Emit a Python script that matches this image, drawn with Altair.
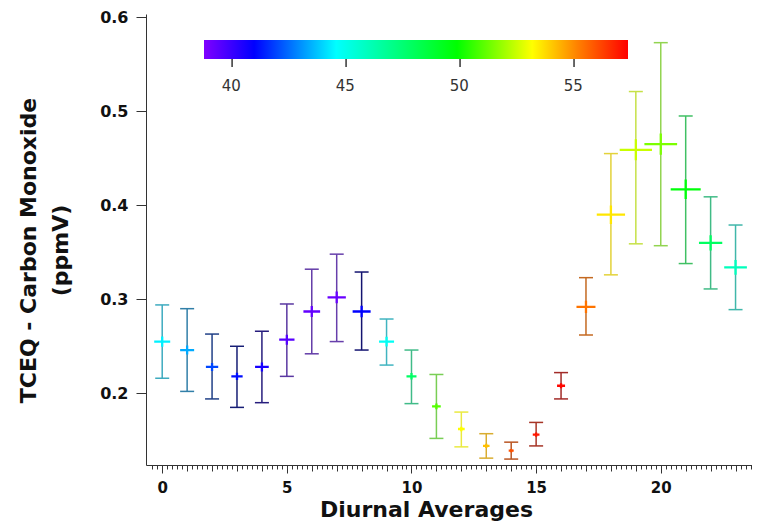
import altair as alt
import pandas as pd

# ---- data ----
hours = list(range(24))
co_mean = [0.255, 0.246, 0.228, 0.218, 0.228, 0.257, 0.287, 0.302, 0.287, 0.255,
           0.218, 0.186, 0.162, 0.144, 0.139, 0.156, 0.208, 0.292, 0.390, 0.459,
           0.465, 0.417, 0.360, 0.334]
co_low = [0.216, 0.202, 0.194, 0.185, 0.190, 0.218, 0.242, 0.255, 0.246, 0.230,
          0.189, 0.152, 0.143, 0.131, 0.130, 0.144, 0.194, 0.262, 0.326, 0.359,
          0.357, 0.338, 0.311, 0.289]
co_high = [0.294, 0.290, 0.263, 0.250, 0.266, 0.295, 0.332, 0.348, 0.329, 0.279,
           0.246, 0.220, 0.180, 0.157, 0.148, 0.169, 0.222, 0.323, 0.455, 0.521,
           0.573, 0.495, 0.409, 0.379]
temperature = [44.4, 43.4, 42.0, 41.2, 40.6, 39.5, 39.3, 39.2, 41.0, 44.8,
               47.8, 51.0, 53.2, 54.2, 56.0, 57.0, 57.3, 55.4, 53.6, 52.5,
               51.5, 49.7, 47.9, 46.0]
spread = [16, 14, 12.3, 11.3, 13.7, 15.3, 16.7, 18.3, 18, 15,
          10, 8.7, 6.7, 6.5, 5, 6.7, 8, 19, 28.3, 32.3,
          32.7, 30, 23.3, 22.7]

color_stops = [38.8, 41.0, 44.6, 49.9, 53.2, 55.2, 57.4]
color_range = ["#8000ff", "#0000ff", "#00ffff", "#00ff00", "#ffff00", "#ff8000", "#ff0000"]
bar_range = ["#7a48b8", "#141470", "#40b4c4", "#40c060", "#eaea40", "#c87020", "#a02828"]
colorbar_ticks = [40, 45, 50, 55]
y_tick_values = [0.2, 0.3, 0.4, 0.5, 0.6]
x_tick_values = [round(-0.4 + 0.2 * i, 1) for i in range(121)]

df = pd.DataFrame({
    "hour": hours, "mean": co_mean, "low": co_low, "high": co_high,
    "temp": temperature, "spread": spread,
})
t_min, t_max = color_stops[0], color_stops[-1]
cb_df = pd.DataFrame({"t0": [t_min], "t1": [t_max]})
cb_tick_df = pd.DataFrame({"t": colorbar_ticks})
cb_tickmark_df = pd.DataFrame({"tk": colorbar_ticks})

FONT = "DejaVu Sans"

x_scale = alt.Scale(domain=[-0.65, 23.66], nice=False, zero=False)
y_scale = alt.Scale(domain=[0.1237, 0.6035], nice=False, zero=False)
color_scale = alt.Scale(domain=color_stops, range=color_range, interpolate="rgb")
cb_x_scale = alt.Scale(domain=[t_min, t_max], range=[58, 482], nice=False, zero=False)

x_axis = alt.Axis(
    values=x_tick_values,
    title="Diurnal Averages",
    labelExpr="abs(datum.value/5 - round(datum.value/5)) < 0.001 ? format(datum.value, 'd') : ''",
    labelOverlap=False,
    labelFont=FONT, labelFontSize=15, labelFontWeight="bold", labelColor="#111",
    labelPadding=7,
    tickSize={"condition": [
        {"test": "abs(datum.value/5 - round(datum.value/5)) < 0.001", "value": 8},
        {"test": "abs(datum.value - round(datum.value)) < 0.001", "value": 6}],
        "value": 4},
    tickColor="#333", tickWidth=1, domainColor="#333", domainWidth=1,
    grid=False,
    titleFont=FONT, titleFontSize=22, titleFontWeight="bold", titleColor="#111",
    titleX=280, titleY=51, titleBaseline="alphabetic", titleAlign="center",
)

y_axis = alt.Axis(
    values=y_tick_values, format=".1f",
    title=["TCEQ - Carbon Monoxide", "(ppmV)"],
    labelFont=FONT, labelFontSize=16, labelFontWeight="bold", labelColor="#111",
    labelPadding=8, tickSize=10, tickColor="#333", domainColor="#333",
    grid=False,
    titleFont=FONT, titleFontSize=22, titleFontWeight="bold", titleColor="#111",
    titleX=-111, titleY=236, titleBaseline="alphabetic", titleAlign="center",
    titleLineHeight=32,
)

stroke_enc = alt.Stroke("temp_bar:Q",
                        scale=alt.Scale(domain=color_stops, range=bar_range, interpolate="rgb"),
                        legend=None)

base = alt.Chart(df)
bar_base = base.transform_calculate(temp_bar="datum.temp")

bars = bar_base.mark_rule(strokeWidth=1.5).encode(
    x=alt.X("hour:Q", scale=x_scale, axis=x_axis),
    y=alt.Y("low:Q", scale=y_scale, axis=y_axis),
    y2="high:Q",
    stroke=stroke_enc,
)

cap_low = bar_base.mark_rule(strokeWidth=1.5, xOffset=-7, x2Offset=7).encode(
    x=alt.X("hour:Q", scale=x_scale, axis=x_axis),
    x2="hour:Q",
    y=alt.Y("low:Q", scale=y_scale, axis=y_axis),
    stroke=stroke_enc,
)

cap_high = bar_base.mark_rule(strokeWidth=1.5, xOffset=-7, x2Offset=7).encode(
    x=alt.X("hour:Q", scale=x_scale, axis=x_axis),
    x2="hour:Q",
    y=alt.Y("high:Q", scale=y_scale, axis=y_axis),
    stroke=stroke_enc,
)

markers = base.mark_point(
    shape="M-1,0L1,0M0,-0.65L0,0.65", filled=False, strokeWidth=2.3, opacity=1
).encode(
    x=alt.X("hour:Q", scale=x_scale, axis=x_axis),
    y=alt.Y("mean:Q", scale=y_scale, axis=y_axis),
    color=alt.Color("temp:Q", scale=color_scale, legend=None),
    size=alt.Size("spread:Q", scale=alt.Scale(type="pow", exponent=2, domain=[0, 40], range=[0, 1600]), legend=None),
)

data_layer = alt.layer(bars, cap_low, cap_high, markers)

# ---- colour bar (a gradient rect with its own x scale) ----
gradient = alt.Gradient(
    gradient="linear", x1=0, x2=1, y1=0, y2=0,
    stops=[alt.GradientStop(offset=(s - t_min) / (t_max - t_min), color=c)
           for s, c in zip(color_stops, color_range)],
)
cb_strip = alt.Chart(cb_df).mark_rect(fill=gradient, stroke=None).encode(
    x=alt.X("t0:Q", scale=cb_x_scale, axis=None),
    x2="t1:Q",
    y=alt.value(26), y2=alt.value(45),
)
# tick marks below the colour bar: thin rects spanning tk .. tk + a hair
cb_ticks = alt.Chart(cb_tickmark_df).transform_calculate(
    tk_end="datum.tk + 0.065"
).mark_rect(color="#333", opacity=1).encode(
    x=alt.X("tk:Q", scale=cb_x_scale, axis=None),
    x2="tk_end:Q",
    y=alt.value(45), y2=alt.value(53),
)
cb_labels = alt.Chart(cb_tick_df).mark_text(
    font=FONT, fontSize=15, color="#333", baseline="middle", align="center"
).encode(
    x=alt.X("t:Q", scale=cb_x_scale, axis=None),
    y=alt.value(72),
    text=alt.Text("t:Q", format="d"),
)
colorbar = alt.layer(cb_strip, cb_ticks, cb_labels)

chart = alt.layer(data_layer, colorbar).resolve_scale(x="independent").properties(
    width=606, height=451,
    autosize=alt.AutoSizeParams(type="none"),
    padding={"left": 138, "top": 6, "right": 0, "bottom": 56},
    background="white",
).configure_view(stroke=None)

chart.save("out.html", embed_options={"renderer": "svg", "actions": False})
